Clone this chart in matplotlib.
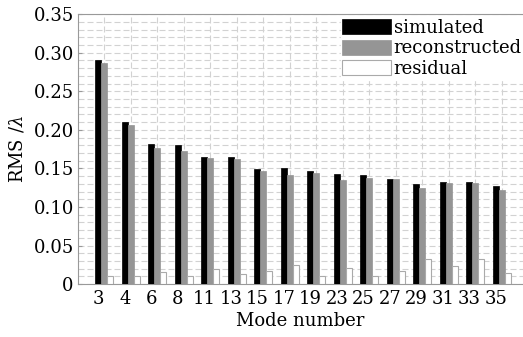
import matplotlib
matplotlib.use("Agg")
import matplotlib.pyplot as plt
import numpy as np
from matplotlib.ticker import MultipleLocator, FixedLocator, FuncFormatter

modes = ["3", "4", "6", "8", "11", "13", "15", "17", "19", "23", "25", "27", "29", "31", "33", "35"]
simulated = [0.290, 0.210, 0.181, 0.180, 0.165, 0.165, 0.149, 0.150, 0.147, 0.143, 0.141, 0.136, 0.130, 0.133, 0.133, 0.127]
reconstructed = [0.287, 0.206, 0.177, 0.173, 0.164, 0.162, 0.146, 0.141, 0.144, 0.135, 0.138, 0.136, 0.124, 0.131, 0.131, 0.122]
residual = [0.010, 0.010, 0.016, 0.011, 0.019, 0.013, 0.017, 0.025, 0.011, 0.021, 0.011, 0.017, 0.033, 0.024, 0.032, 0.014]

plt.rcParams['font.family'] = ['DejaVu Serif']
plt.rcParams['mathtext.fontset'] = 'dejavuserif'

fig = plt.figure(figsize=(5.23, 3.37), dpi=100)
ax = fig.add_axes([0.149, 0.157, 0.851, 0.801])

x = np.arange(len(modes))
w = 0.225
grid_col = '#d2d2d2'
ax.bar(x, simulated, w, color='black', edgecolor='black', linewidth=0.5, label='simulated', zorder=3)
ax.bar(x + w, reconstructed, w, color='#959595', edgecolor='#959595', linewidth=0.5, label='reconstructed', zorder=3)
ax.bar(x + 2 * w, residual, w, color='white', edgecolor='#aaaaaa', linewidth=0.8, label='residual', zorder=3)

ax.set_xlim(-0.774, 16.02)
ax.set_ylim(0, 0.35)

ax.set_xticks(x)
ax.set_xticklabels(modes)
ax.xaxis.set_minor_locator(FixedLocator(x + w))
ax.yaxis.set_major_locator(MultipleLocator(0.05))
ax.yaxis.set_minor_locator(MultipleLocator(0.01))
ax.yaxis.set_major_formatter(FuncFormatter(lambda v, p: "0" if abs(v) < 1e-9 else f"{v:.2f}"))

ls = (0, (5.4, 2.7))
ax.grid(False)
ax.xaxis.grid(True, which='minor', color=grid_col, linestyle=ls, linewidth=0.8, zorder=0)
ax.yaxis.grid(True, which='both', color=grid_col, linestyle=ls, linewidth=0.8, zorder=0)
ax.set_axisbelow(True)

ax.tick_params(axis='both', which='major', labelsize=13, direction='in', length=3, color='#999999')
ax.tick_params(axis='x', which='minor', length=0)
ax.tick_params(axis='y', which='minor', length=0)
ax.tick_params(axis='x', which='major', pad=4, length=0)
ax.tick_params(axis='y', which='major', pad=3)

for s in ['left', 'bottom', 'top']:
    ax.spines[s].set_color('#999999')
    ax.spines[s].set_linewidth(0.8)
ax.spines['right'].set_visible(False)

ax.set_xlabel('Mode number', fontsize=13, labelpad=3)
ax.set_ylabel('RMS /$\\lambda$', fontsize=13, labelpad=5)

leg = ax.legend(loc='upper left', bbox_to_anchor=(0.59, 0.99), fontsize=13,
                frameon=True, fancybox=False, edgecolor='white', facecolor='white', framealpha=1,
                borderpad=0.1, borderaxespad=0, handlelength=2.7, handleheight=0.9,
                handletextpad=0.15, labelspacing=0.15)
leg.set_zorder(5)

fig.savefig('out.png', dpi=100)
